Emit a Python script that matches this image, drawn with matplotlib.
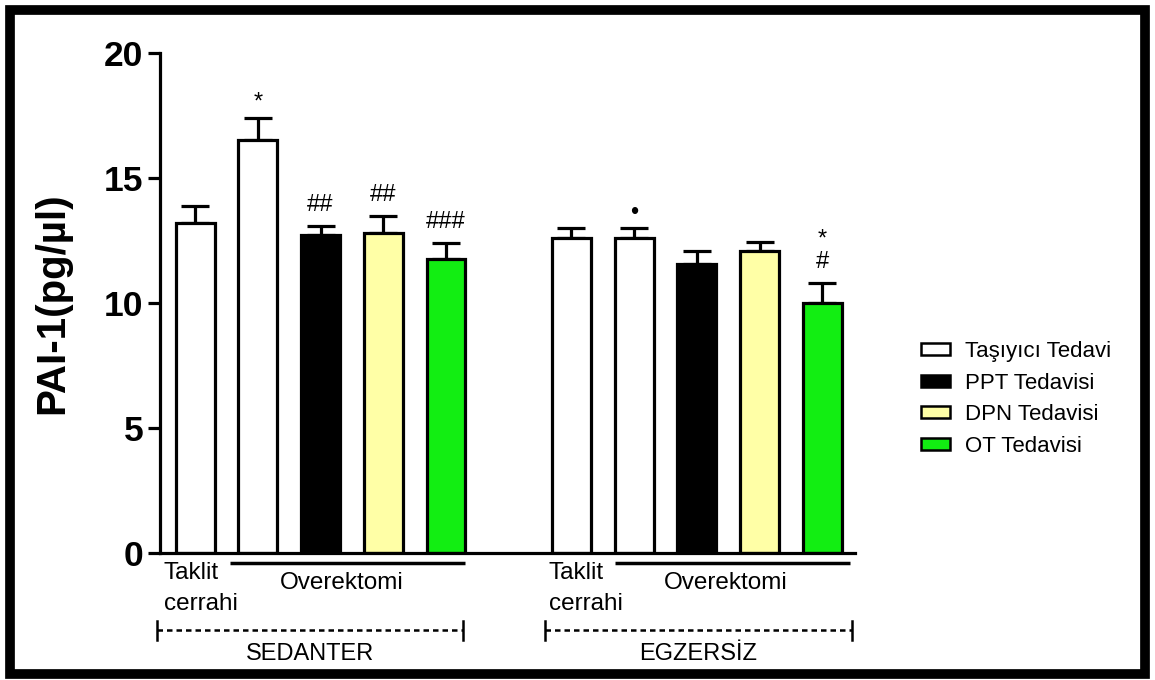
import matplotlib
matplotlib.use('Agg')
import matplotlib.pyplot as plt
from matplotlib.patches import Rectangle, Patch
import matplotlib.transforms as mtransforms

plt.rcParams['font.family'] = ['Liberation Sans', 'DejaVu Sans']

# Veriler
positions = [0, 1, 2, 3, 4, 6, 7, 8, 9, 10]
values = [13.2, 16.5, 12.7, 12.8, 11.75, 12.6, 12.6, 11.55, 12.05, 10.0]
errors = [0.65, 0.9, 0.35, 0.65, 0.65, 0.4, 0.38, 0.53, 0.38, 0.8]
treatments = ['Taşıyıcı Tedavi', 'Taşıyıcı Tedavi', 'PPT Tedavisi', 'DPN Tedavisi', 'OT Tedavisi',
              'Taşıyıcı Tedavi', 'Taşıyıcı Tedavi', 'PPT Tedavisi', 'DPN Tedavisi', 'OT Tedavisi']
signs = ['', '*', '##', '##', '###', '', '•', '', '', '*\n#']
legend_labels = ['Taşıyıcı Tedavi', 'PPT Tedavisi', 'DPN Tedavisi', 'OT Tedavisi']
colors = {'Taşıyıcı Tedavi': 'white', 'PPT Tedavisi': 'black',
          'DPN Tedavisi': '#ffffa6', 'OT Tedavisi': '#12ee12'}
group_names = ['SEDANTER', 'EGZERSİZ']
group_starts = [0, 6]

fig = plt.figure(figsize=(11.55, 6.8), dpi=100)
ax = fig.add_axes([160 / 1155, 1 - 552.7 / 680, 695 / 1155, 500 / 680])

bar_colors = [colors[t] for t in treatments]
ax.bar(positions, values, width=0.62, color=bar_colors, edgecolor='black', linewidth=2.3,
       yerr=[[0] * len(errors), errors], zorder=2,
       error_kw=dict(ecolor='black', elinewidth=2.3, capsize=10, capthick=2.3, zorder=1))

# Anlamlılık işaretleri
for p, v, e, s in zip(positions, values, errors, signs):
    if s:
        off = 4 if s in ('*', '•') else 10
        ax.annotate(s, (p, v + e), xytext=(0, off), textcoords='offset pixels',
                    ha='center', va='bottom', fontsize=17, linespacing=1.0)

# Eksen ayarları
ax.set_xlim(-0.56, 10.52)
ax.set_ylim(0, 20)
ax.set_yticks([0, 5, 10, 15, 20])
ax.set_xticks([])
for side in ['top', 'right']:
    ax.spines[side].set_visible(False)
for side in ['left', 'bottom']:
    ax.spines[side].set_linewidth(2.3)
ax.tick_params(axis='y', length=9, width=2.3, pad=3, labelsize=25.5)
for lab in ax.get_yticklabels():
    lab.set_fontweight('bold')
ax.set_ylabel('PAI-1(pg/µl)', fontsize=29, fontweight='bold')
ax.yaxis.set_label_coords(-0.128, 0.5)

# Alt etiketler
trans = mtransforms.blended_transform_factory(ax.transData, ax.transAxes)
def yf(pix):
    return -(pix - 552.7) / 500

for g, start in enumerate(group_starts):
    tx = start - 0.5 if g == 0 else start - 0.36
    ax.text(tx, yf(562), 'Taklit\ncerrahi', transform=trans, ha='left', va='top',
            fontsize=17.5, linespacing=1.5)
    lx0, lx1 = (start + 0.56, start + 4.3) if g == 0 else (start + 0.69, start + 4.44)
    ax.plot([lx0, lx1], [yf(563), yf(563)], transform=trans, color='black', lw=2.5,
            clip_on=False, solid_capstyle='butt')
    ax.text((lx0 + lx1) / 2 - 0.1, yf(583), 'Overektomi', transform=trans, ha='center',
            va='center', fontsize=17.5)
    dx0, dx1 = (start - 0.6, start + 4.27) if g == 0 else (start - 0.42, start + 4.47)
    ax.plot([dx0, dx1], [yf(630), yf(630)], transform=trans, color='black', lw=1.8,
            ls=(0, (2.2, 1.6)), clip_on=False)
    for dx in (dx0, dx1):
        ax.plot([dx, dx], [yf(621), yf(640)], transform=trans, color='black', lw=1.8,
                clip_on=False)
    ax.text((dx0 + dx1) / 2, yf(654), group_names[g], transform=trans, ha='center',
            va='center', fontsize=17)

# Lejant
handles = [Patch(facecolor=colors[l], edgecolor='black', linewidth=1.8) for l in legend_labels]
fig.legend(handles, legend_labels, loc='upper left',
           bbox_to_anchor=(921 / 1155, 1 - 341 / 680), frameon=False, fontsize=16,
           handlelength=1.3, handleheight=0.45, handletextpad=0.7, labelspacing=0.48,
           borderpad=0, borderaxespad=0)

# Dış çerçeve
fig.patches.append(Rectangle((9.5 / 1155, 6 / 680), (1145 - 9.5) / 1155, (670.5 - 6) / 680,
                             transform=fig.transFigure, fill=False, edgecolor='black',
                             linewidth=7, zorder=10))

fig.savefig('out.png', dpi=100)
